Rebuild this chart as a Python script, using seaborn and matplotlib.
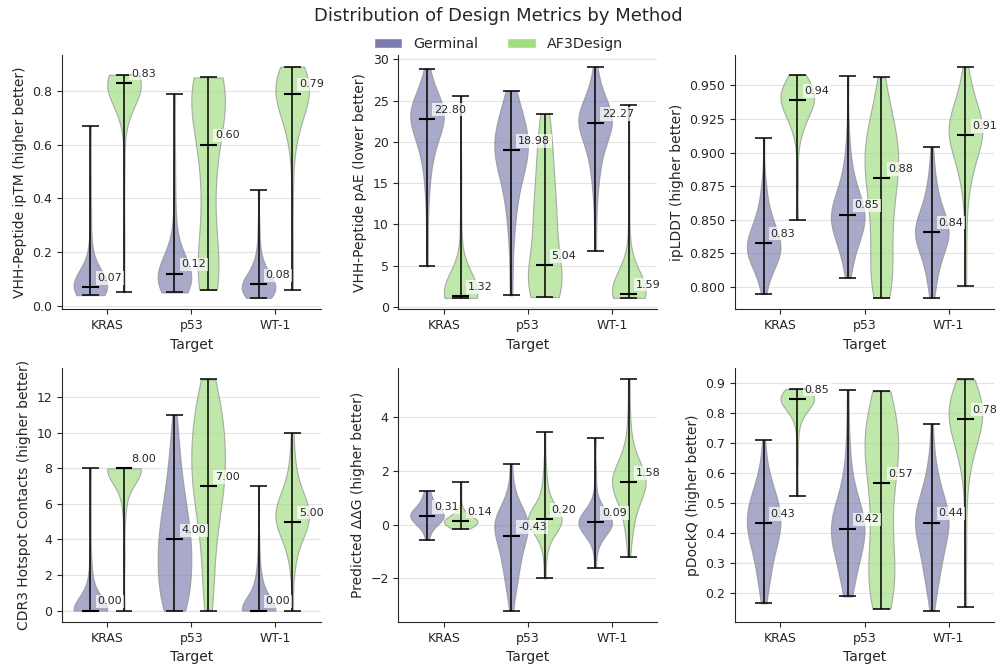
import numpy as np
import pandas as pd
import matplotlib
matplotlib.use('Agg')
import matplotlib.pyplot as plt
from matplotlib.patches import Patch
import seaborn as sns

targets = ['KRAS', 'p53', 'WT-1']
methods = ['Germinal', 'AF3Design']
colors = ['#7b7bad', '#9fdd7f']

# --- samples (KRAS, p53, WT-1) ---
iptm_germinal = [
    [0.04]*4 + [0.05]*6 + [0.06]*6 + [0.07]*6 + [0.08]*5 + [0.09]*5 + [0.10]*4 + [0.12]*3 + [0.14]*2 + [0.17]*2 + [0.21, 0.26, 0.34, 0.45, 0.67],
    [0.05]*4 + [0.07]*6 + [0.09]*6 + [0.11]*6 + [0.13]*5 + [0.15]*4 + [0.18]*3 + [0.22]*2 + [0.27, 0.33, 0.42, 0.55, 0.79],
    [0.03]*5 + [0.05]*7 + [0.07]*7 + [0.09]*5 + [0.11]*4 + [0.14]*3 + [0.18]*2 + [0.23, 0.30, 0.43],
]
iptm_af3 = [
    [0.05, 0.25, 0.5, 0.68] + [0.72]*2 + [0.75]*2 + [0.78]*3 + [0.80]*5 + [0.82]*6 + [0.83]*7 + [0.84]*6 + [0.85]*5 + [0.86]*4,
    [0.06]*3 + [0.09]*3 + [0.12]*3 + [0.16]*3 + [0.22]*2 + [0.30]*2 + [0.38]*2 + [0.46]*2 + [0.54]*3 + [0.62]*3 + [0.69]*4 + [0.75]*5 + [0.80]*5 + [0.83]*5 + [0.85]*4,
    [0.06, 0.2, 0.4, 0.55] + [0.62]*2 + [0.68]*3 + [0.72]*4 + [0.76]*5 + [0.79]*6 + [0.82]*6 + [0.85]*5 + [0.87]*4 + [0.89]*3,
]
pae_germinal = [
    [4.9, 8.5, 12.0] + [14.5]*2 + [17]*3 + [19]*4 + [20.5]*5 + [22]*7 + [23]*8 + [24]*7 + [25]*5 + [26]*3 + [27.5]*2 + [28.8],
    [1.4, 4, 7] + [9.5]*2 + [12]*3 + [14.5]*4 + [16.5]*5 + [18]*6 + [19.5]*7 + [21]*6 + [22.5]*5 + [24]*3 + [25.5]*2 + [26.2],
    [6.8, 10, 12.5] + [14.5]*2 + [16.5]*3 + [18.5]*4 + [20]*5 + [21.5]*7 + [22.5]*8 + [23.5]*7 + [24.5]*5 + [26]*3 + [27.5]*2 + [29.1],
]
pae_af3 = [
    [1.1]*5 + [1.3]*8 + [1.6]*7 + [2.0]*5 + [2.5]*3 + [3.2]*2 + [4.0] + [6, 10, 16, 25.5],
    [1.2]*3 + [1.8]*5 + [2.5]*5 + [3.3]*3 + [4.2]*2 + [5.2]*2 + [6.5]*3 + [8]*3 + [9.5]*3 + [11]*3 + [12.5]*3 + [14]*3 + [15.5]*2 + [17]*2 + [18.5]*2 + [20]*2 + [21.5]*2 + [23.4]*2,
    [1.1]*5 + [1.3]*7 + [1.6]*7 + [2.0]*6 + [2.6]*4 + [3.3]*3 + [4.2]*2 + [5.5] + [8, 13, 18, 24.5],
]
iplddt_germinal = [
    [0.795, 0.800] + [0.806]*2 + [0.812]*3 + [0.818]*5 + [0.824]*7 + [0.830]*8 + [0.836]*6 + [0.842]*5 + [0.848]*4 + [0.855]*3 + [0.863]*2 + [0.872]*2 + [0.885, 0.911],
    [0.807] + [0.815]*2 + [0.825]*3 + [0.835]*5 + [0.843]*6 + [0.850]*7 + [0.857]*7 + [0.864]*5 + [0.872]*4 + [0.882]*3 + [0.893]*2 + [0.905, 0.92, 0.957],
    [0.792] + [0.800]*2 + [0.810]*3 + [0.820]*4 + [0.828]*5 + [0.835]*6 + [0.841]*7 + [0.847]*6 + [0.854]*5 + [0.862]*4 + [0.872]*3 + [0.883]*2 + [0.893, 0.904],
]
iplddt_af3 = [
    [0.850, 0.880, 0.905] + [0.915]*2 + [0.922]*3 + [0.928]*4 + [0.934]*6 + [0.939]*7 + [0.944]*6 + [0.949]*5 + [0.953]*4 + [0.958]*3,
    [0.792]*3 + [0.798]*3 + [0.805]*3 + [0.813]*3 + [0.822]*3 + [0.832]*3 + [0.842]*3 + [0.852]*3 + [0.862]*4 + [0.872]*4 + [0.882]*5 + [0.892]*6 + [0.902]*6 + [0.912]*5 + [0.922]*4 + [0.933]*3 + [0.944]*2 + [0.956],
    [0.801, 0.830, 0.855] + [0.872]*2 + [0.885]*3 + [0.895]*4 + [0.905]*5 + [0.912]*6 + [0.918]*6 + [0.925]*5 + [0.932]*4 + [0.940]*3 + [0.948]*2 + [0.956, 0.964],
]
contacts_germinal = [
    [0]*30 + [1]*6 + [2]*2 + [3, 8],
    [0]*6 + [1]*5 + [2]*6 + [3]*6 + [4]*6 + [5]*5 + [6]*4 + [7]*3 + [8]*2 + [9]*2 + [10, 11],
    [0]*28 + [1]*7 + [2]*3 + [3, 4, 7],
]
contacts_af3 = [
    [0, 3, 5] + [6]*2 + [7]*6 + [8]*30,
    [0]*2 + [1]*2 + [2]*2 + [3]*2 + [4]*3 + [5]*3 + [6]*5 + [7]*6 + [8]*6 + [9]*6 + [10]*6 + [11]*5 + [12]*4 + [13]*3,
    [0, 2] + [3]*2 + [4]*5 + [5]*12 + [6]*10 + [7]*4 + [8]*2 + [9, 10],
]
ddg_germinal = [
    [-0.57, -0.35] + [-0.15]*2 + [0.0]*3 + [0.15]*5 + [0.3]*6 + [0.45]*6 + [0.6]*4 + [0.8]*3 + [1.0]*2 + [1.25]*2,
    [-3.2, -2.8] + [-2.4]*2 + [-2.0]*3 + [-1.6]*3 + [-1.2]*4 + [-0.8]*5 + [-0.4]*6 + [0.0]*8 + [0.3]*6 + [0.6]*3 + [1.0]*2 + [1.5, 2.25],
    [-1.6, -1.0] + [-0.6]*2 + [-0.3]*4 + [-0.1]*7 + [0.1]*9 + [0.3]*6 + [0.5]*3 + [0.8]*2 + [1.3, 2.0, 3.22],
]
ddg_af3 = [
    [-0.15]*3 + [-0.05]*6 + [0.05]*8 + [0.15]*8 + [0.25]*6 + [0.35]*3 + [0.5]*2 + [0.8, 1.2, 1.58],
    [-2.0, -1.3] + [-0.8]*2 + [-0.4]*3 + [-0.1]*6 + [0.1]*8 + [0.3]*8 + [0.5]*5 + [0.8]*3 + [1.2]*2 + [1.7]*2 + [2.4, 3.43],
    [-1.2, -0.6] + [-0.2]*2 + [0.3]*3 + [0.8]*4 + [1.2]*6 + [1.5]*7 + [1.8]*7 + [2.1]*5 + [2.5]*3 + [3.0]*2 + [3.6, 4.3, 5.4],
]
pdockq_germinal = [
    [0.167] + [0.21]*2 + [0.26]*3 + [0.31]*4 + [0.36]*5 + [0.40]*6 + [0.44]*7 + [0.48]*6 + [0.52]*5 + [0.56]*3 + [0.60]*2 + [0.65, 0.71],
    [0.19]*2 + [0.24]*3 + [0.29]*4 + [0.34]*5 + [0.38]*6 + [0.42]*7 + [0.46]*6 + [0.50]*4 + [0.55]*3 + [0.61]*2 + [0.68, 0.75, 0.877],
    [0.143] + [0.20]*2 + [0.25]*3 + [0.30]*4 + [0.35]*5 + [0.40]*6 + [0.44]*7 + [0.48]*6 + [0.52]*4 + [0.57]*3 + [0.62]*2 + [0.68, 0.765],
]
pdockq_af3 = [
    [0.523, 0.65, 0.72] + [0.77]*2 + [0.80]*3 + [0.82]*5 + [0.84]*7 + [0.85]*7 + [0.86]*6 + [0.87]*4 + [0.88]*3,
    [0.15]*3 + [0.20]*4 + [0.25]*4 + [0.30]*3 + [0.35]*3 + [0.40]*2 + [0.45]*2 + [0.50]*3 + [0.56]*3 + [0.62]*4 + [0.67]*5 + [0.72]*5 + [0.77]*4 + [0.82]*3 + [0.873]*3,
    [0.155, 0.35, 0.5] + [0.6]*2 + [0.66]*3 + [0.71]*4 + [0.75]*6 + [0.79]*7 + [0.83]*6 + [0.86]*4 + [0.89]*3 + [0.912]*2,
]

# medians as labelled on the chart
iptm_med = [[0.07, 0.12, 0.08], [0.83, 0.60, 0.79]]
pae_med = [[22.80, 18.98, 22.27], [1.32, 5.04, 1.59]]
iplddt_med = [[0.833, 0.854, 0.841], [0.939, 0.881, 0.913]]
contacts_med = [[0.0, 4.0, 0.0], [8.0, 7.0, 5.0]]
ddg_med = [[0.31, -0.43, 0.09], [0.14, 0.20, 1.58]]
pdockq_med = [[0.434, 0.416, 0.436], [0.848, 0.568, 0.781]]

ylabels = ['VHH-Peptide ipTM (higher better)', 'VHH-Peptide pAE (lower better)',
           'ipLDDT (higher better)', 'CDR3 Hotspot Contacts (higher better)',
           'Predicted ΔΔG (higher better)', 'pDockQ (higher better)']

panels = [
    (iptm_germinal, iptm_af3, iptm_med),
    (pae_germinal, pae_af3, pae_med),
    (iplddt_germinal, iplddt_af3, iplddt_med),
    (contacts_germinal, contacts_af3, contacts_med),
    (ddg_germinal, ddg_af3, ddg_med),
    (pdockq_germinal, pdockq_af3, pdockq_med),
]

sns.set_style('ticks')
plt.rcParams['font.family'] = ['DejaVu Sans']

fig, axes = plt.subplots(2, 3, figsize=(9.97, 6.64), dpi=100)
fig.subplots_adjust(left=0.062, right=0.997, bottom=0.063, top=0.917, wspace=0.30, hspace=0.23)

offsets = [-0.2, 0.2]
for ax, ylab, (g_data, a_data, meds) in zip(axes.flat, ylabels, panels):
    rows = []
    for ti, t in enumerate(targets):
        for m, d in zip(methods, [g_data[ti], a_data[ti]]):
            for v in d:
                rows.append((t, m, v))
    df = pd.DataFrame(rows, columns=['Target', 'Method', 'value'])

    sns.violinplot(data=df, x='Target', y='value', hue='Method', order=targets,
                   hue_order=methods, palette=colors, saturation=1, cut=0,
                   inner=None, density_norm='width', width=0.8, linewidth=0.8,
                   linecolor='#888888', alpha=0.65, legend=False, ax=ax)

    # extrema + median markers, like matplotlib's violinplot
    for mi, data in enumerate([g_data, a_data]):
        for ti in range(len(targets)):
            pos = ti + offsets[mi]
            lo, hi = min(data[ti]), max(data[ti])
            med = meds[mi][ti]
            ax.vlines(pos, lo, hi, color='black', lw=1.1, zorder=3)
            ax.hlines([lo, hi], pos - 0.1, pos + 0.1, color='black', lw=1.1, zorder=3)
            ax.hlines(med, pos - 0.1, pos + 0.1, color='black', lw=1.5, zorder=3)
            ax.annotate(f'{med:.2f}', xy=(pos, med), xytext=(5, 3),
                        textcoords='offset points', ha='left', va='bottom',
                        fontsize=8, zorder=4,
                        bbox=dict(boxstyle='square,pad=0.15', fc='white', ec='none', alpha=0.7))

    ax.set_xlim(-0.54, 2.54)
    ax.set_xlabel('Target', fontsize=10)
    ax.set_ylabel(ylab, fontsize=10)
    ax.tick_params(labelsize=9)
    ax.grid(axis='y', color='#e3e3e3', lw=0.8)
    ax.set_axisbelow(True)
    sns.despine(ax=ax)

fig.suptitle('Distribution of Design Metrics by Method', fontsize=13, y=0.99)
handles = [Patch(facecolor=c, label=m) for c, m in zip(colors, methods)]
fig.legend(handles=handles, loc='center', bbox_to_anchor=(0.5, 0.934), ncol=2,
           frameon=False, fontsize=10.3)

fig.savefig('out.png', dpi=100)
